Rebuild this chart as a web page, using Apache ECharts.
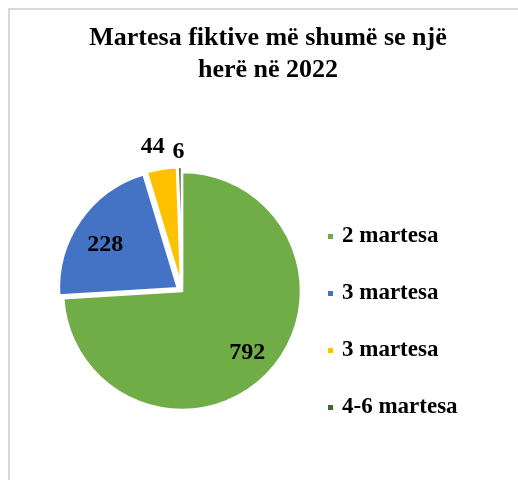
<!DOCTYPE html>
<html>
<head>
<meta charset="utf-8">
<script src="https://cdn.jsdelivr.net/npm/echarts@6/dist/echarts.min.js"></script>
<style>
  html, body { margin: 0; padding: 0; background: #fff; }
  #chart { width: 518px; height: 480px; }
</style>
</head>
<body>
<div id="chart"></div>
<script>
// data
const categories = ['2 martesa', '3 martesa', '3 martesa', '4-6 martesa'];
const values = [792, 228, 44, 6];
const colors = ['#70AD47', '#4472C4', '#FFC000', '#43682B'];
const exploded = [false, true, true, true];
const insideLabel = [true, true, false, false];
// small nudges so labels sit where the original has them
const labelShift = [[-1, -1], [2, 9], [-5, 2], [-1, 9]];

const serif = '"Liberation Serif", "Times New Roman", serif';

// two categories share a name, legend needs distinct keys
const names = categories.map((c, i) => c + ' '.repeat(categories.slice(0, i).filter(x => x === c).length));

const chartDom = document.getElementById('chart');
const myChart = echarts.init(chartDom);

const center = [182, 291];
const baseSeries = {
  type: 'pie',
  center: center,
  startAngle: 90,
  clockwise: true,
  selectedMode: 'multiple',
  selectedOffset: 5,
  avoidLabelOverlap: false,
  animation: false,
  silent: true,
  labelLine: { show: false },
  labelLayout: p => ({ dx: labelShift[p.dataIndex][0], dy: labelShift[p.dataIndex][1] })
};

const labelFor = show => ({
  show: show, position: 'inside', formatter: '{c}',
  fontFamily: serif, fontWeight: 'bold', fontSize: 24, color: '#000'
});

const option = {
  color: colors,
  title: {
    text: 'Martesa fiktive më shumë se një\nherë në 2022',
    left: 263,
    top: 17,
    textAlign: 'center',
    textStyle: { fontFamily: serif, fontWeight: 'bold', fontSize: 26, lineHeight: 32, color: '#000' }
  },
  legend: {
    orient: 'vertical',
    left: 326,
    top: 225,
    padding: 0,
    icon: 'rect',
    itemWidth: 7,
    itemHeight: 7,
    itemGap: 34,
    data: names,
    formatter: n => n.trim(),
    textStyle: { fontFamily: serif, fontWeight: 'bold', fontSize: 23, lineHeight: 22, color: '#000', padding: [0, 0, 0, 3] }
  },
  graphic: [{
    type: 'rect',
    shape: { x: 9, y: 9, width: 600, height: 600 },
    style: { fill: 'none', stroke: '#d9d9d9', lineWidth: 2 },
    silent: true
  }],
  series: [
    // the slices
    Object.assign({}, baseSeries, {
      radius: 119,
      itemStyle: { borderColor: '#fff', borderWidth: 2.5 },
      label: { show: false },
      data: values.map((v, i) => ({ name: names[i], value: v, selected: exploded[i] }))
    }),
    // labels inside the large slices
    Object.assign({}, baseSeries, {
      radius: [57, 119],
      itemStyle: { color: 'transparent', borderWidth: 0 },
      data: values.map((v, i) => ({ name: names[i], value: v, selected: exploded[i], label: labelFor(insideLabel[i]) }))
    }),
    // labels above the thin slices
    Object.assign({}, baseSeries, {
      radius: [126, 154],
      itemStyle: { color: 'transparent', borderWidth: 0 },
      data: values.map((v, i) => ({ name: names[i], value: v, selected: exploded[i], label: labelFor(!insideLabel[i]) }))
    })
  ]
};

option && myChart.setOption(option);
</script>
</body>
</html>
